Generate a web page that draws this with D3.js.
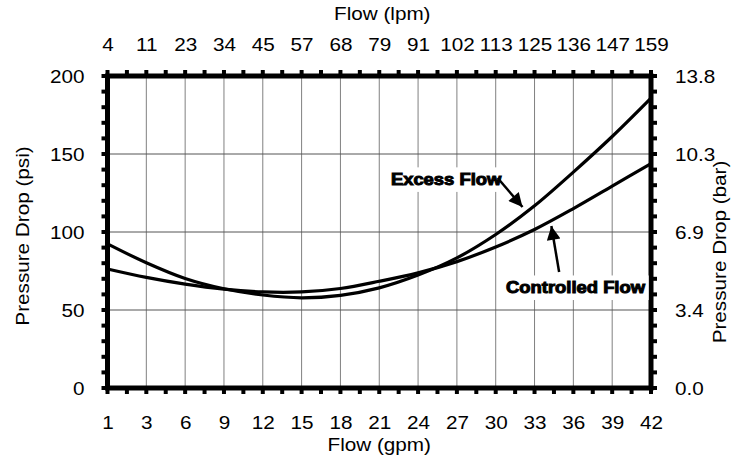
<!DOCTYPE html>
<html>
<head>
<meta charset="utf-8">
<script src="https://cdn.jsdelivr.net/npm/d3@7"></script>
<style>
  body { margin: 0; background: #fff; }
  svg { display: block; font-family: "Liberation Sans", Arial, sans-serif; }
</style>
</head>
<body>
<svg id="chart" width="745" height="465"></svg>
<script>
// tick labels
const gpmTicks = [1, 3, 6, 9, 12, 15, 18, 21, 24, 27, 30, 33, 36, 39, 42];
const lpmTicks = [4, 11, 23, 34, 45, 57, 68, 79, 91, 102, 113, 125, 136, 147, 159];
const psiTicks = [0, 50, 100, 150, 200];
const barTicks = ['0.0', '3.4', '6.9', '10.3', '13.8'];

// pressure drop (psi) read at each gpm tick
const excessFlow = [92.4, 80.3, 70.2, 63.6, 59.6, 57.8, 59.4, 64.2, 72.4, 83.4, 98.4, 116.8, 138.4, 161.2, 185.8];
const controlledFlow = [76.3, 70.9, 66.6, 63.4, 61.6, 61.6, 63.8, 68.4, 73.8, 81, 90.4, 101.6, 115, 129.4, 143.8];

// annotations: label start, arrow tail, arrow tip (gpm, psi)
const labelNames = ['Excess Flow', 'Controlled Flow'];
const labelAt = [[21.9, 130], [30.8, 60.7]];
const arrowFrom = [[30.15, 134.6], [34.9, 74.4]];
const arrowTo = [[32.07, 116], [34.3, 103.8]];

const m = {left: 107.5, right: 651, top: 76, bottom: 388};
const sx = 1.15; // text is a bit wide in the original
const fs = 18;
const svg = d3.select('#chart');

const step = (m.right - m.left) / (gpmTicks.length - 1);
const x = d3.scaleLinear()
  .domain(gpmTicks)
  .range(gpmTicks.map((d, i) => m.left + i * step));
const xl = d3.scaleLinear()
  .domain(lpmTicks)
  .range(lpmTicks.map((d, i) => m.left + i * step));
const xi = d3.scaleLinear().domain([0, gpmTicks.length - 1]).range([m.left, m.right]);
const y = d3.scaleLinear().domain([0, 200]).range([m.bottom, m.top]);

// grid
svg.append('g')
  .selectAll('line')
  .data(gpmTicks.slice(1, -1))
  .enter().append('line')
    .attr('x1', d => x(d)).attr('x2', d => x(d))
    .attr('y1', m.top).attr('y2', m.bottom)
    .attr('stroke', '#808080').attr('stroke-width', 1);
svg.append('g')
  .selectAll('line')
  .data(psiTicks.slice(1, -1))
  .enter().append('line')
    .attr('x1', m.left).attr('x2', m.right)
    .attr('y1', d => y(d)).attr('y2', d => y(d))
    .attr('stroke', '#555').attr('stroke-width', 1);

// curves
const line = d3.line()
  .x((d, i) => x(gpmTicks[i]))
  .y(d => y(d))
  .curve(d3.curveCatmullRom.alpha(0.5));

[excessFlow, controlledFlow].forEach(s => {
  svg.append('path')
    .attr('d', line(s))
    .attr('fill', 'none')
    .attr('stroke', '#000')
    .attr('stroke-width', 3.2);
});

// frame ticks
const tk = svg.append('g').attr('stroke', '#000').attr('stroke-width', 4);
const halfSteps = d3.range(0, gpmTicks.length - 0.99, 0.5);
const tenPsi = d3.range(0, 201, 10);
tk.selectAll('.tt').data(halfSteps).enter().append('line')
  .attr('x1', d => xi(d)).attr('x2', d => xi(d)).attr('y1', m.top).attr('y2', m.top - 6);
tk.selectAll('.tb').data(halfSteps).enter().append('line')
  .attr('x1', d => xi(d)).attr('x2', d => xi(d)).attr('y1', m.bottom).attr('y2', m.bottom + 6);
tk.selectAll('.tl').data(tenPsi).enter().append('line')
  .attr('y1', d => y(d)).attr('y2', d => y(d)).attr('x1', m.left).attr('x2', m.left - 6);
tk.selectAll('.tr').data(tenPsi).enter().append('line')
  .attr('y1', d => y(d)).attr('y2', d => y(d)).attr('x1', m.right).attr('x2', m.right + 6);

// frame
svg.append('rect')
  .attr('x', m.left).attr('y', m.top)
  .attr('width', m.right - m.left).attr('height', m.bottom - m.top)
  .attr('fill', 'none').attr('stroke', '#000').attr('stroke-width', 5);

// axes (labels only)
function styleAxis(g) {
  g.select('.domain').remove();
  g.selectAll('.tick line').remove();
  g.selectAll('text')
    .attr('font-size', fs)
    .attr('font-family', '"Liberation Sans", Arial, sans-serif')
    .attr('fill', '#000')
    .attr('dy', '0');
}

svg.append('g')
  .attr('transform', `translate(0,${m.bottom})`)
  .call(d3.axisBottom(x).tickValues(gpmTicks).tickSize(0))
  .call(styleAxis)
  .selectAll('text').attr('y', 41).attr('transform', `scale(${sx},1)`);

svg.append('g')
  .attr('transform', `translate(0,${m.top})`)
  .call(d3.axisTop(xl).tickValues(lpmTicks).tickSize(0))
  .call(styleAxis)
  .selectAll('text').attr('y', -25).attr('transform', `scale(${sx},1)`);

svg.append('g')
  .attr('transform', `translate(${m.left},0)`)
  .call(d3.axisLeft(y).tickValues(psiTicks).tickSize(0))
  .call(styleAxis)
  .selectAll('text').attr('x', -23 / sx).attr('y', 6.5).attr('transform', `scale(${sx},1)`);

svg.append('g')
  .attr('transform', `translate(${m.right},0)`)
  .call(d3.axisRight(y).tickValues(psiTicks).tickSize(0).tickFormat((d, i) => barTicks[i]))
  .call(styleAxis)
  .selectAll('text').attr('x', 24 / sx).attr('y', 6.5).attr('transform', `scale(${sx},1)`);

// axis titles
function title(txt, tx, ty, rot) {
  svg.append('text')
    .attr('transform', `translate(${tx},${ty}) rotate(${rot}) scale(${sx},1)`)
    .attr('text-anchor', 'middle')
    .attr('font-size', fs)
    .text(txt);
}
title('Flow (gpm)', (m.left + m.right) / 2, 451, 0);
title('Flow (lpm)', (m.left + m.right) / 2 + 3, 20, 0);
title('Pressure Drop (psi)', 29, 236, -90);
title('Pressure Drop (bar)', 726, 252, -90);

// annotations
svg.append('defs').append('marker')
  .attr('id', 'head')
  .attr('viewBox', '0 0 10 10')
  .attr('refX', 10).attr('refY', 5)
  .attr('markerWidth', 6.5).attr('markerHeight', 5.5)
  .attr('markerUnits', 'strokeWidth')
  .attr('orient', 'auto')
  .append('path').attr('d', 'M0,0L10,5L0,10Z').attr('fill', '#000');

labelNames.forEach((name, i) => {
  const g = svg.append('g');
  const t = g.append('text')
    .attr('transform', `translate(${x(labelAt[i][0])},${y(labelAt[i][1])}) scale(${sx},1)`)
    .attr('font-size', 16)
    .attr('font-weight', 'bold')
    .attr('stroke', '#000')
    .attr('stroke-width', 1)
    .text(name);
  const bb = t.node().getBBox();
  g.insert('rect', 'text')
    .attr('x', x(labelAt[i][0]) + bb.x * sx - 3)
    .attr('y', y(labelAt[i][1]) + bb.y - 3)
    .attr('width', bb.width * sx + 6)
    .attr('height', bb.height + 6)
    .attr('fill', '#fff');

  svg.append('line')
    .attr('x1', x(arrowFrom[i][0])).attr('y1', y(arrowFrom[i][1]))
    .attr('x2', x(arrowTo[i][0])).attr('y2', y(arrowTo[i][1]))
    .attr('stroke', '#000').attr('stroke-width', 2.5)
    .attr('marker-end', 'url(#head)');
});
</script>
</body>
</html>
